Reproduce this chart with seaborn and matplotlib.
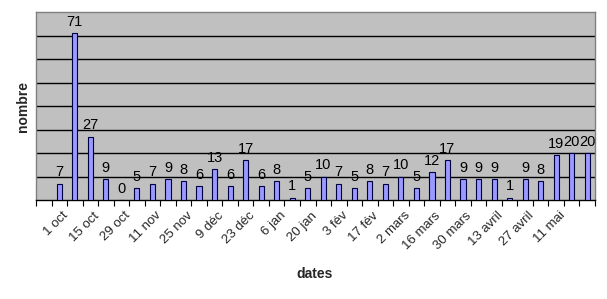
import matplotlib
matplotlib.use("Agg")
import matplotlib.pyplot as plt
import matplotlib.transforms as mtransforms
import seaborn as sns
import pandas as pd
import numpy as np

categories = ["24 sept", "1 oct", "8 oct", "15 oct", "22 oct", "29 oct", "4 nov", "11 nov",
              "18 nov", "25 nov", "2 déc", "9 déc", "16 déc", "23 déc", "30 déc", "6 jan",
              "13 jan", "20 jan", "27 jan", "3 fév", "10 fév", "17 fév", "24 fév", "2 mars",
              "9 mars", "16 mars", "23 mars", "30 mars", "6 avril", "13 avril", "20 avril",
              "27 avril", "4 mai", "11 mai", "18 mai", "25 mai"]
values = [None, 7, 71, 27, 9, 0, 5, 7, 9, 8, 6, 13, 6, 17, 6, 8, 1, 5, 10, 7, 5, 8, 7, 10,
          5, 12, 17, 9, 9, 9, 1, 9, 8, 19, 20, 20]
shown_labels = ["1 oct", "15 oct", "29 oct", "11 nov", "25 nov", "9 déc", "23 déc", "6 jan",
                "20 jan", "3 fév", "17 fév", "2 mars", "16 mars", "30 mars", "13 avril",
                "27 avril", "11 mai"]

sns.set_theme(style="white")
plt.rcParams['font.family'] = ['Liberation Sans', 'DejaVu Sans']

df = pd.DataFrame({"date": categories, "nombre": values}).dropna()

fig = plt.figure(figsize=(6.07, 2.99), dpi=100)
ax = fig.add_axes([36/607, 1 - 200/299, (595-36)/607, (200-12)/299])
ax.set_facecolor("#C0C0C0")

sns.barplot(data=df, x="date", y="nombre", order=categories, color="#9999FF",
            saturation=1, width=0.33, edgecolor="#000040", linewidth=0.8,
            errorbar=None, ax=ax, zorder=3)

ax.set_xlim(-0.5, len(categories) - 0.5)
ax.set_ylim(0, 80)
ax.set_yticks(np.arange(10, 80, 10))
ax.yaxis.grid(True, color="black", linewidth=1.0, zorder=1)
ax.set_axisbelow(True)
ax.tick_params(axis="y", length=0, labelleft=False)

for s in ["top", "right", "left"]:
    ax.spines[s].set_color("#808080")
    ax.spines[s].set_linewidth(1.0)
ax.spines["bottom"].set_color("black")
ax.spines["bottom"].set_linewidth(1.0)

# value labels
for i, (c, v) in enumerate(zip(categories, values)):
    if v is None:
        continue
    ax.annotate(str(v), (i, v), xytext=(0, 3), textcoords="offset points",
                ha="center", va="bottom", fontsize=10.5, color="black",
                annotation_clip=False, zorder=5)

# ticks: minor at boundaries, labels on every other category
ax.set_xticks(np.arange(-0.5, len(categories), 1.0), minor=True)
ax.tick_params(axis="x", which="minor", length=4, width=0.8, color="black", direction="out", bottom=True)
pos = [categories.index(l) for l in shown_labels]
ax.set_xticks(pos)
ax.set_xticklabels(shown_labels, rotation=45, ha="right", va="center",
                   rotation_mode="anchor", fontsize=9.5)
ax.tick_params(axis="x", which="major", length=0, pad=10)
offset = mtransforms.ScaledTranslation(7/100, 0, fig.dpi_scale_trans)
for lab in ax.get_xticklabels():
    lab.set_transform(lab.get_transform() + offset)

ax.set_xlabel("")
ax.set_ylabel("")
fig.text(23/607, 1 - 106/299, "nombre", rotation=90, ha="center", va="center",
         fontsize=10, fontweight="bold")
fig.text(315/607, 1 - 274/299, "dates", ha="center", va="center",
         fontsize=10, fontweight="bold")

fig.savefig("out.png", dpi=100)
